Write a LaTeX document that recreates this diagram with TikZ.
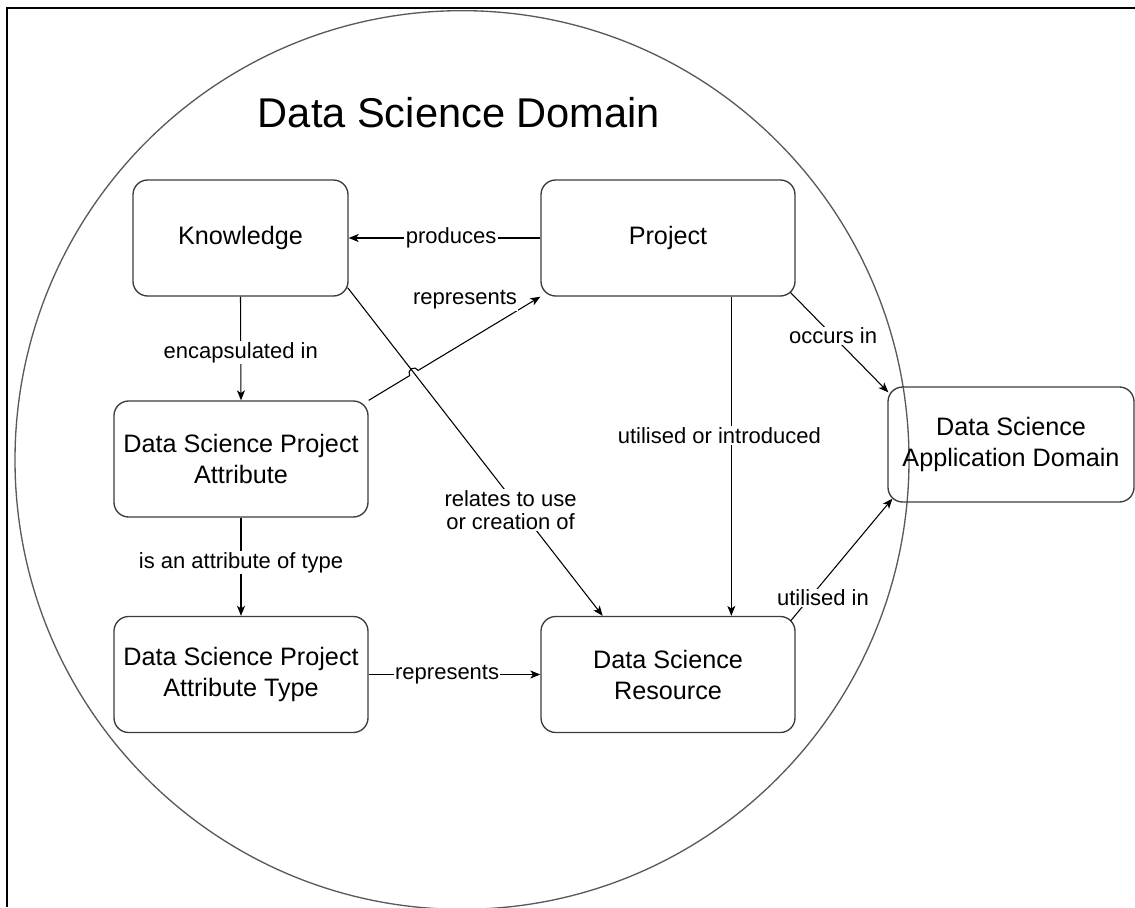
\documentclass[tikz,border=0pt]{standalone}
\usepackage{fontspec}
\setmainfont{Liberation Sans}
\usetikzlibrary{arrows.meta,calc,intersections}
\definecolor{boxc}{HTML}{3C3C3C}
\definecolor{circc}{HTML}{5A5A5A}
\begin{document}
\begin{tikzpicture}[x=0.75pt,y=-0.75pt,
  box/.style={draw=boxc, line width=1pt, rounded corners=11pt, inner sep=0pt, align=center,
    font=\fontsize{18.9}{23.25}\selectfont},
  widebox/.style={box, minimum width=190.5pt, minimum height=87pt},
  lbl/.style={fill=white, inner sep=1pt, align=center, font=\fontsize{16.5}{17.5}\selectfont},
  conn/.style={draw=black, line width=0.8pt, -{Stealth[length=7.5pt,width=6pt,inset=2pt]}},
]
\useasboundingbox (0,0) rectangle (1135,907);
% frame
\draw[line width=1.5pt] (7,907) -- (7,8) -- (1135,8);
% domain circle
\draw[circc, line width=1pt] (462,460) ellipse[x radius=335.25pt, y radius=337pt];
\node[font=\fontsize{31.2}{36}\selectfont, anchor=base] (title) at (459,127) {Data Science Domain};
% boxes
\node[box, minimum width=161.25pt, minimum height=87pt] (know) at (240.5,238) {Knowledge};
\node[widebox] (proj) at (668,238) {Project};
\node[widebox] (dspa) at (241,459) {Data Science Project\\Attribute};
\node[widebox] (dspat) at (241,674.5) {Data Science Project\\Attribute Type};
\node[widebox] (dsr) at (668,674.5) {Data Science\\Resource};
\node[box, minimum width=184.5pt, minimum height=86.25pt] (dsad) at (1011,444.5) {Data Science\\Application Domain};
% connectors
\draw[conn] (proj.west) -- node[lbl, pos=0.466]{produces} (know.east);
\draw[conn] (know.south) -- node[lbl, pos=0.54]{encapsulated in} (dspa.north);
\draw[conn] (dspa.south) -- node[lbl, pos=0.46]{is an attribute of type} (dspat.north);
\draw[conn] (dspat.east) -- node[lbl, pos=0.457]{represents} (dsr.west);
\draw[conn, name path=kr] ($(know.south east)+(-1,-9)$) -- node[lbl, pos=0.678, xshift=-7.5pt]{relates to use\\or creation of} ($(dsr.north west)!0.244!(dsr.north east)$);
\path[name path=rp] (dspa.north east) -- (proj.south west);
\path[name intersections={of=kr and rp, by={hop}}];
\draw[conn] (dspa.north east) -- ($(hop)!3.75pt!(dspa.north east)$) arc[start angle=211.26, end angle=31.26, radius=3.75pt] -- (proj.south west);
\node[lbl] (rep1) at (465,300) {represents};
\draw[conn] ($(proj.south west)!0.748!(proj.south east)$) -- node[lbl, pos=0.436, xshift=-9pt]{utilised or introduced} ($(dsr.north west)!0.748!(dsr.north east)$);
\draw[conn] ($(proj.south east)+(-5,-4)$) -- node[lbl, pos=0.434]{occurs in} ($(dsad.north west)+(1,6)$);
\draw[conn] ($(dsr.north east)+(-5,5)$) -- ($(dsad.south west)+(5,-4)$);
\node[lbl] (utl) at (823,598) {utilised in};
\end{tikzpicture}
\end{document}
